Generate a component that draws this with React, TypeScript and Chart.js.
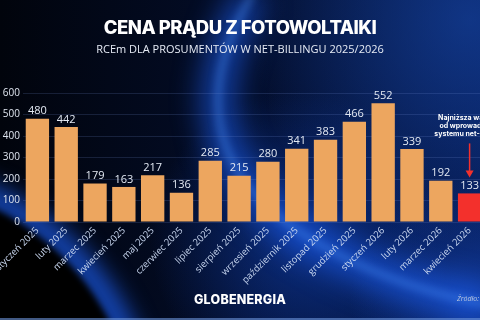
import React, { useEffect, useRef } from "react";
import { Chart, registerables } from "chart.js";

Chart.register(...registerables);

const categories = [
  "styczeń 2025", "luty 2025", "marzec 2025", "kwiecień 2025", "maj 2025", "czerwiec 2025",
  "lipiec 2025", "sierpień 2025", "wrzesień 2025", "październik 2025", "listopad 2025",
  "grudzień 2025", "styczeń 2026", "luty 2026", "marzec 2026", "kwiecień 2026",
];
const values = [480, 442, 179, 163, 217, 136, 285, 215, 280, 341, 383, 466, 552, 339, 192, 133];
const highlightIndex = 15;
const yMin = 0;
const yMax = 600;
const yStep = 100;
const title = "CENA PRĄDU Z FOTOWOLTAIKI";
const subtitle = "RCEm DLA PROSUMENTÓW W NET-BILLINGU 2025/2026";
const annotationLines = ["Najniższa wartość", "od wprowadzenia", "systemu net-billingu"];
const brand = "GLOBENERGIA";
const sourceLabel = "Źródło:";

const ORANGE = "#eda65f";
const RED = "#f3302c";

const bgPlugin = {
  id: "bgPlugin",
  beforeDraw(chart: any) {
    const { ctx, width, height } = chart;
    ctx.save();
    const g = ctx.createLinearGradient(0, 0, width, 0);
    g.addColorStop(0, "#01040c");
    g.addColorStop(0.45, "#030c26");
    g.addColorStop(1, "#061c56");
    ctx.fillStyle = g;
    ctx.fillRect(0, 0, width, height);

    let r = ctx.createRadialGradient(470, 20, 0, 470, 20, 220);
    r.addColorStop(0, "rgba(25,75,175,0.55)");
    r.addColorStop(1, "rgba(25,75,175,0)");
    ctx.fillStyle = r;
    ctx.fillRect(0, 0, width, height);

    r = ctx.createRadialGradient(300, 240, 0, 300, 240, 150);
    r.addColorStop(0, "rgba(20,80,220,0.45)");
    r.addColorStop(1, "rgba(20,80,220,0)");
    ctx.fillStyle = r;
    ctx.fillRect(0, 0, width, height);

    r = ctx.createRadialGradient(470, 300, 0, 470, 300, 120);
    r.addColorStop(0, "rgba(30,90,230,0.45)");
    r.addColorStop(1, "rgba(30,90,230,0)");
    ctx.fillStyle = r;
    ctx.fillRect(0, 0, width, height);

    const beam = () => {
      ctx.beginPath();
      ctx.moveTo(252, -5);
      ctx.quadraticCurveTo(192, 95, 238, 172);
      ctx.bezierCurveTo(275, 232, 380, 286, 495, 306);
    };
    ctx.filter = "blur(16px)";
    ctx.strokeStyle = "rgba(30,100,255,0.8)";
    ctx.lineWidth = 24;
    beam();
    ctx.stroke();
    ctx.filter = "blur(4px)";
    ctx.strokeStyle = "rgba(80,150,255,0.65)";
    ctx.lineWidth = 4;
    beam();
    ctx.stroke();

    // planet bottom-left
    ctx.filter = "blur(12px)";
    ctx.strokeStyle = "rgba(30,100,255,0.85)";
    ctx.lineWidth = 22;
    ctx.beginPath();
    ctx.arc(-120, 440, 266, 0, Math.PI * 2);
    ctx.stroke();
    ctx.filter = "blur(3px)";
    ctx.fillStyle = "#000000";
    ctx.beginPath();
    ctx.arc(-120, 440, 258, 0, Math.PI * 2);
    ctx.fill();
    ctx.filter = "none";

    ctx.fillStyle = "rgba(110,150,220,0.6)";
    ctx.fillRect(0, height - 2, width, 2);
    ctx.restore();
  },
};

const textPlugin = {
  id: "textPlugin",
  afterDatasetsDraw(chart: any) {
    const { ctx } = chart;
    const meta = chart.getDatasetMeta(0);
    ctx.save();
    // value labels
    ctx.font = '11px "Open Sans"';
    ctx.fillStyle = "#e3e9f3";
    ctx.textAlign = "center";
    ctx.textBaseline = "bottom";
    meta.data.forEach((bar: any, i: number) => {
      ctx.fillText(String(values[i]), bar.x, bar.y - 2);
    });

    // title & subtitle
    ctx.fillStyle = "#ffffff";
    ctx.textBaseline = "middle";
    ctx.font = '800 18.5px "Inter"';
    (ctx as any).letterSpacing = "-0.5px";
    ctx.fillText(title, 240, 28);
    (ctx as any).letterSpacing = "0px";
    ctx.font = '11px "Open Sans"';
    ctx.fillStyle = "#e6ebf5";
    ctx.fillText(subtitle, 240, 50);

    // annotation
    const hb = meta.data[highlightIndex];
    ctx.font = 'bold 7px "Inter"';
    ctx.fillStyle = "#ffffff";
    annotationLines.forEach((line, k) => {
      ctx.fillText(line, hb.x, hb.y - 76 + k * 8.3);
    });
    ctx.strokeStyle = RED;
    ctx.fillStyle = RED;
    ctx.lineWidth = 1.5;
    ctx.beginPath();
    ctx.moveTo(hb.x, hb.y - 50);
    ctx.lineTo(hb.x, hb.y - 22);
    ctx.stroke();
    ctx.beginPath();
    ctx.moveTo(hb.x - 4, hb.y - 23);
    ctx.lineTo(hb.x + 4, hb.y - 23);
    ctx.lineTo(hb.x, hb.y - 16);
    ctx.closePath();
    ctx.fill();

    // footer
    ctx.fillStyle = "#ffffff";
    ctx.font = '800 12.5px "Inter"';
    (ctx as any).letterSpacing = "0.2px";
    ctx.fillText(brand, 240, 300);
    (ctx as any).letterSpacing = "0px";
    ctx.textAlign = "left";
    ctx.font = 'italic 7px "Open Sans"';
    ctx.fillStyle = "#b9c6de";
    ctx.fillText(sourceLabel, 457, 299);
    ctx.restore();
  },
};

export default function App() {
  const ref = useRef<HTMLCanvasElement | null>(null);
  useEffect(() => {
    if (!ref.current) return;
    const chart = new Chart(ref.current, {
      type: "bar",
      data: {
        labels: categories,
        datasets: [
          {
            data: values,
            backgroundColor: values.map((_, i) => (i === highlightIndex ? RED : ORANGE)),
            borderWidth: 0,
            barPercentage: 0.81,
            categoryPercentage: 1,
          },
        ],
      },
      options: {
        responsive: false,
        devicePixelRatio: 1,
        animation: false,
        layout: { padding: { top: 93, left: 2, right: 4, bottom: 28 } },
        plugins: { legend: { display: false }, tooltip: { enabled: false }, title: { display: false } },
        scales: {
          x: {
            offset: true,
            grid: { display: false, drawTicks: false },
            border: { display: false },
            ticks: {
              autoSkip: false,
              maxRotation: 45,
              minRotation: 45,
              padding: 3,
              color: "#c9d7f0",
              font: { family: "Open Sans", size: 9.5 },
            },
            afterFit: (s: any) => {
              s.height = 70;
              s.paddingLeft = 0;
              s.paddingRight = 0;
            },
          },
          y: {
            min: yMin,
            max: yMax,
            ticks: {
              stepSize: yStep,
              padding: 3,
              color: "#dfe5ef",
              font: { family: "Open Sans", size: 10 },
            },
            grid: { color: "rgba(120,150,220,0.18)", drawTicks: false },
            border: { display: false },
            afterFit: (s: any) => {
              s.width = 21;
              s.paddingTop = 0;
              s.paddingBottom = 0;
            },
          },
        },
      },
      plugins: [bgPlugin, textPlugin],
    });
    return () => chart.destroy();
  }, []);
  return (
    <div style={{ position: "absolute", left: 0, top: 0, width: 480, height: 320, overflow: "hidden" }}>
      <canvas ref={ref} width={488} height={320} style={{ display: "block" }} />
    </div>
  );
}
